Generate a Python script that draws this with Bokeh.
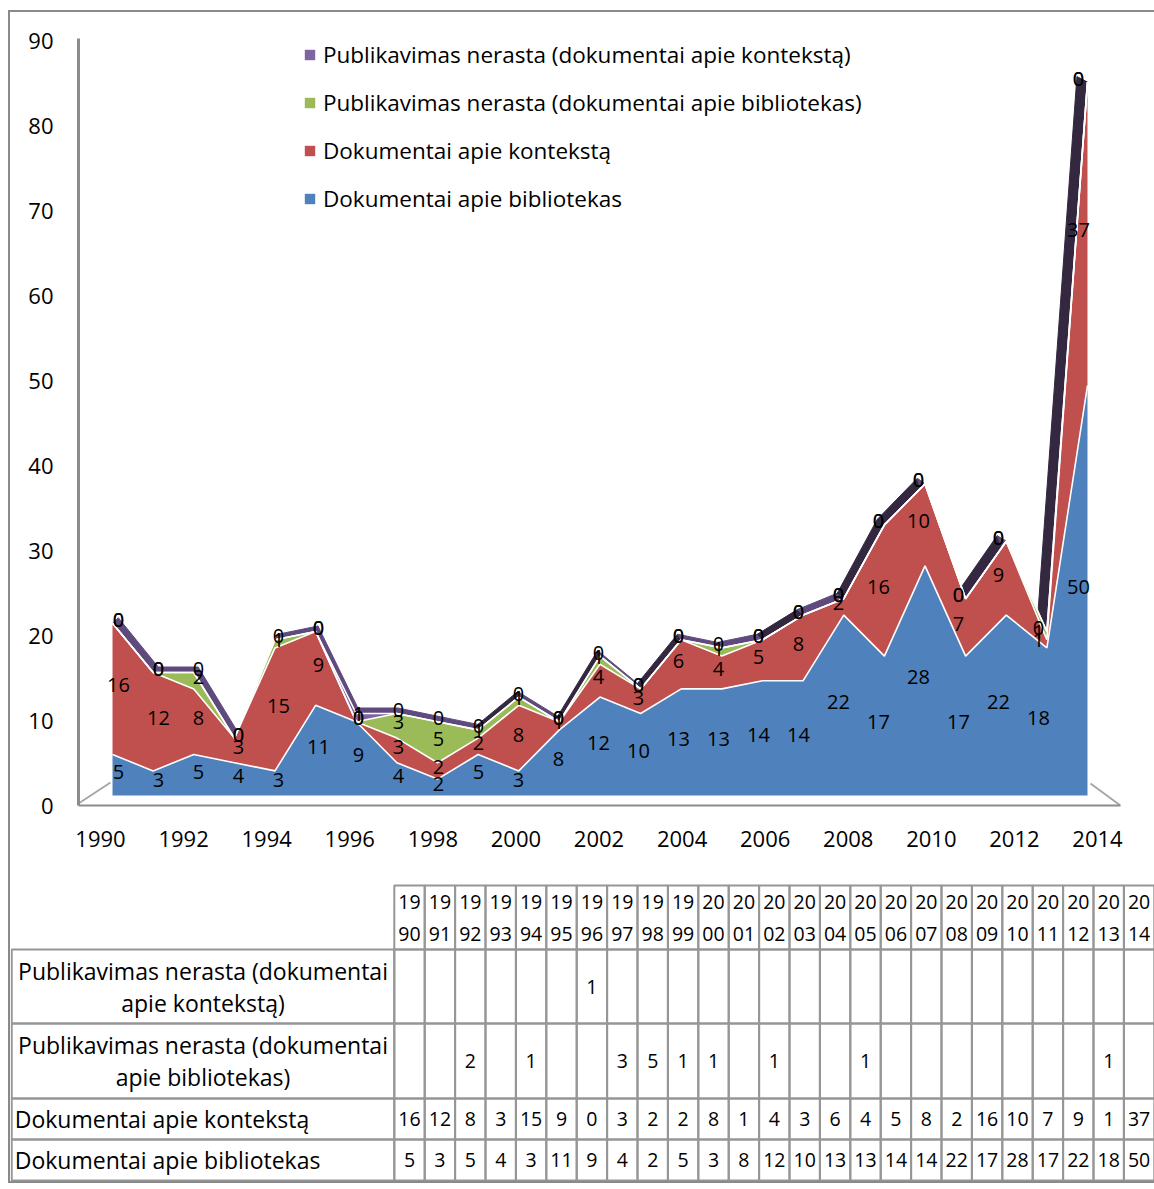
import numpy as np
from bokeh.plotting import figure
from bokeh.models import Range1d, LinearAxis, FixedTicker, Legend, LegendItem
from bokeh.layouts import column
from bokeh.embed import file_html
from bokeh.resources import INLINE
from bokeh.core.properties import value

# ---------------- data ----------------
years = list(range(1990, 2015))
series_names = [
    "Dokumentai apie bibliotekas",
    "Dokumentai apie kontekstą",
    "Publikavimas nerasta (dokumentai apie bibliotekas)",
    "Publikavimas nerasta (dokumentai apie kontekstą)",
]
dok_bibliotekas = [5, 3, 5, 4, 3, 11, 9, 4, 2, 5, 3, 8, 12, 10, 13, 13, 14, 14, 22, 17, 28, 17, 22, 18, 50]
dok_kontekstas = [16, 12, 8, 3, 15, 9, 0, 3, 2, 2, 8, 1, 4, 3, 6, 4, 5, 8, 2, 16, 10, 7, 9, 1, 37]
nerasta_bibliotekas = [None, None, 2, None, 1, None, None, 3, 5, 1, 1, None, 1, None, None, 1,
                       None, None, None, None, None, None, None, 1, None]
nerasta_kontekstas = [None, None, None, None, None, None, 1, None, None, None, None, None, None,
                      None, None, None, None, None, None, None, None, None, None, None, None]
x_tick_years = list(range(1990, 2015, 2))
y_ticks = list(range(0, 91, 10))

# ---------------- style / layout ----------------
FONT = "Open Sans"
COLORS = ["#4f81bd", "#c0504d", "#9bbb59", "#8064a2"]
ROOF_LIGHT = "#5f4a7e"
ROOF_DARK = "#33283f"
AXIS_GREY = "#8c8c8c"
TABLE_GREY = "#969696"

W = 1144
H_CHART = 858
H_TABLE = 311
ML, MT, MB = 68, 26, 65
FW = 1042
FH = H_CHART - MT - MB
MR = W - ML - FW


def plane(x0_px, px_per_year, y0_px, px_per_unit):
    xs = years[0] - x0_px / px_per_year
    ys = -y0_px / px_per_unit
    return Range1d(xs, xs + FW / px_per_year), Range1d(ys, ys + FH / px_per_unit)


axis_x, axis_y = plane(22, 41.54, 0, 8.5)      # back wall axes
face_x, face_y = plane(34, 40.625, 10, 8.2)    # front face of the 3-D area
lab_x, lab_y = plane(40, 40.0, 13.5, 8.2)      # data-label plane
FACE_PXY = 40.625
FACE_PXU = 8.2
DEPTH_K = 0.0168
VANISH_YEAR = 1998.5
DEPTH_Y = 0.67

p = figure(width=W, height=H_CHART, x_range=axis_x, y_range=axis_y,
           output_backend="svg", toolbar_location=None, tools="",
           x_axis_location=None, y_axis_location=None,
           min_border_left=ML, min_border_right=MR, min_border_top=MT, min_border_bottom=MB)
p.frame_align = False
p.extra_x_ranges = {"face": face_x, "lab": lab_x}
p.extra_y_ranges = {"face": face_y, "lab": lab_y}
p.outline_line_color = None
p.background_fill_color = "white"
p.border_fill_color = "white"
for g in p.grid:
    g.visible = False


def to_axis(dx_px, dy_px):
    return axis_x.start + dx_px / 41.54, dy_px / 8.5


fl = [to_axis(0, 2), to_axis(32, 23)]
fr = [to_axis(FW - 30, 22), to_axis(FW, 0)]
p.line([fl[0][0], fl[1][0]], [fl[0][1], fl[1][1]], line_color="#a6a6a6", line_width=2)
p.line([fr[0][0], fr[1][0]], [fr[0][1], fr[1][1]], line_color="#a6a6a6", line_width=2)

# stacked values
raw = [dok_bibliotekas, dok_kontekstas, nerasta_bibliotekas, nerasta_kontekstas]
vals = np.array([[v if v is not None else 0 for v in s] for s in raw], dtype=float)
cum = np.cumsum(vals, axis=0)
bottoms = np.vstack([np.zeros(len(years)), cum[:-1]])
top = cum[-1]

# roof (top surface of the 3-D stack)
xs_roof, ys_roof, roof_cols = [], [], []
for i in range(len(years) - 1):
    xa, xb = years[i], years[i + 1]
    ya, yb = top[i], top[i + 1]
    bxa = xa + DEPTH_K * (VANISH_YEAR - xa)
    bxb = xb + DEPTH_K * (VANISH_YEAR - xb)
    xs_roof.append([xa, xb, bxb, bxa])
    ys_roof.append([ya, yb, yb + DEPTH_Y, ya + DEPTH_Y])
    rise_px = (yb - ya) * FACE_PXU / FACE_PXY
    roof_cols.append(ROOF_DARK if rise_px > 0.5 else ROOF_LIGHT)
p.patches(xs_roof, ys_roof, fill_color=roof_cols, line_color=roof_cols, line_width=1,
          x_range_name="face", y_range_name="face")

# front faces
face_renderers = []
for k in range(4):
    r = p.varea(x=years, y1=bottoms[k], y2=cum[k], fill_color=COLORS[k],
                x_range_name="face", y_range_name="face")
    face_renderers.append(r)
for k in range(4):
    p.line(years, cum[k], line_color="white", line_width=1.6,
           x_range_name="face", y_range_name="face")

# data labels
for k in range(4):
    texts = [str(v if v is not None else 0) for v in raw[k]]
    mids = bottoms[k] + vals[k] / 2.0
    p.text(x=years, y=mids, text=texts, x_range_name="lab", y_range_name="lab",
           text_font=value(FONT), text_font_size="20px", text_color="black",
           text_align="center", text_baseline="middle")

# axes
yax = LinearAxis(ticker=FixedTicker(ticks=y_ticks), axis_line_color=AXIS_GREY, axis_line_width=3,
                 major_tick_line_color=None, minor_tick_line_color=None,
                 major_label_text_font=FONT, major_label_text_font_size="22px",
                 major_label_text_color="black", major_label_standoff=19)
p.add_layout(yax, "left")
xax = LinearAxis(ticker=FixedTicker(ticks=x_tick_years), axis_line_color=AXIS_GREY, axis_line_width=2,
                 major_tick_line_color=None, minor_tick_line_color=None,
                 major_label_text_font=FONT, major_label_text_font_size="22px",
                 major_label_text_color="black", major_label_standoff=19)
p.add_layout(xax, "below")

# legend
LEG_ITEM_H = 32
LEG_SPACING = 16
leg_h = 4 * LEG_ITEM_H + 3 * LEG_SPACING
legend = Legend(items=[LegendItem(label=series_names[k], renderers=[face_renderers[k]]) for k in [3, 2, 1, 0]],
                location=(225, FH - leg_h), glyph_width=13, glyph_height=13, label_height=LEG_ITEM_H,
                spacing=LEG_SPACING, padding=0, margin=0, label_standoff=7,
                label_text_font=FONT, label_text_font_size="22.5px", label_text_color="black",
                border_line_color=None, background_fill_alpha=0)
p.add_layout(legend)

# ---------------- data table ----------------
COL_W = 30.4
first_center_px = 399.0
tx0 = years[0] - first_center_px / COL_W
t_xr = Range1d(tx0, tx0 + W / COL_W)
t = figure(width=W, height=H_TABLE, x_range=t_xr, y_range=Range1d(H_TABLE, 0),
           output_backend="svg", toolbar_location=None, tools="",
           x_axis_location=None, y_axis_location=None, min_border=0)
t.frame_align = False
t.outline_line_color = None
for g in t.grid:
    g.visible = False

ROW_EDGES = [15, 79, 153, 228, 269, 310]
table_rows = [nerasta_kontekstas, nerasta_bibliotekas, dok_kontekstas, dok_bibliotekas]
row_names = [series_names[3], series_names[2], series_names[1], series_names[0]]
label_right = years[0] - 0.5
label_left = tx0 + 0.04

cl, cr, ct, cb = [], [], [], []
for r in range(5):
    for yr in years:
        cl.append(yr - 0.5); cr.append(yr + 0.5)
        ct.append(ROW_EDGES[r]); cb.append(ROW_EDGES[r + 1])
    if r > 0:
        cl.append(label_left); cr.append(label_right)
        ct.append(ROW_EDGES[r]); cb.append(ROW_EDGES[r + 1])
t.quad(left=cl, right=cr, top=ct, bottom=cb, fill_color=None, line_color=TABLE_GREY, line_width=2)

TFS = "19.5px"
LFS = "23px"
t.text(x=years, y=[31] * len(years), text=[str(y)[:2] for y in years], text_font=value(FONT),
       text_font_size=TFS, text_align="center", text_baseline="middle", text_color="black")
t.text(x=years, y=[63] * len(years), text=[str(y)[2:] for y in years], text_font=value(FONT),
       text_font_size=TFS, text_align="center", text_baseline="middle", text_color="black")

label_center = (label_left + label_right) / 2
for r, (name, row) in enumerate(zip(row_names, table_rows)):
    top_e, bot_e = ROW_EDGES[r + 1], ROW_EDGES[r + 2]
    mid = (top_e + bot_e) / 2
    txt = ["" if v is None else str(v) for v in row]
    t.text(x=years, y=[mid] * len(years), text=txt, text_font=value(FONT), text_font_size=TFS,
           text_align="center", text_baseline="middle", text_color="black")
    words = name.split(" ")
    if len(words) > 4:
        lines = [" ".join(words[:3]), " ".join(words[3:])]
        t.text(x=[label_center, label_center], y=[mid - 16, mid + 16], text=lines,
               text_font=value(FONT), text_font_size=LFS, text_align="center",
               text_baseline="middle", text_color="black")
    else:
        t.text(x=[label_left + 0.1], y=[mid], text=[name], text_font=value(FONT),
               text_font_size=LFS, text_align="left", text_baseline="middle", text_color="black")

layout = column(p, t, styles={"margin-left": "8px", "margin-top": "10px",
                              "border-left": "2px solid #8a8a8a",
                              "border-top": "2px solid #8a8a8a",
                              "border-bottom": "2px solid #8a8a8a"})
open("out.html", "w").write(file_html(layout, INLINE))
